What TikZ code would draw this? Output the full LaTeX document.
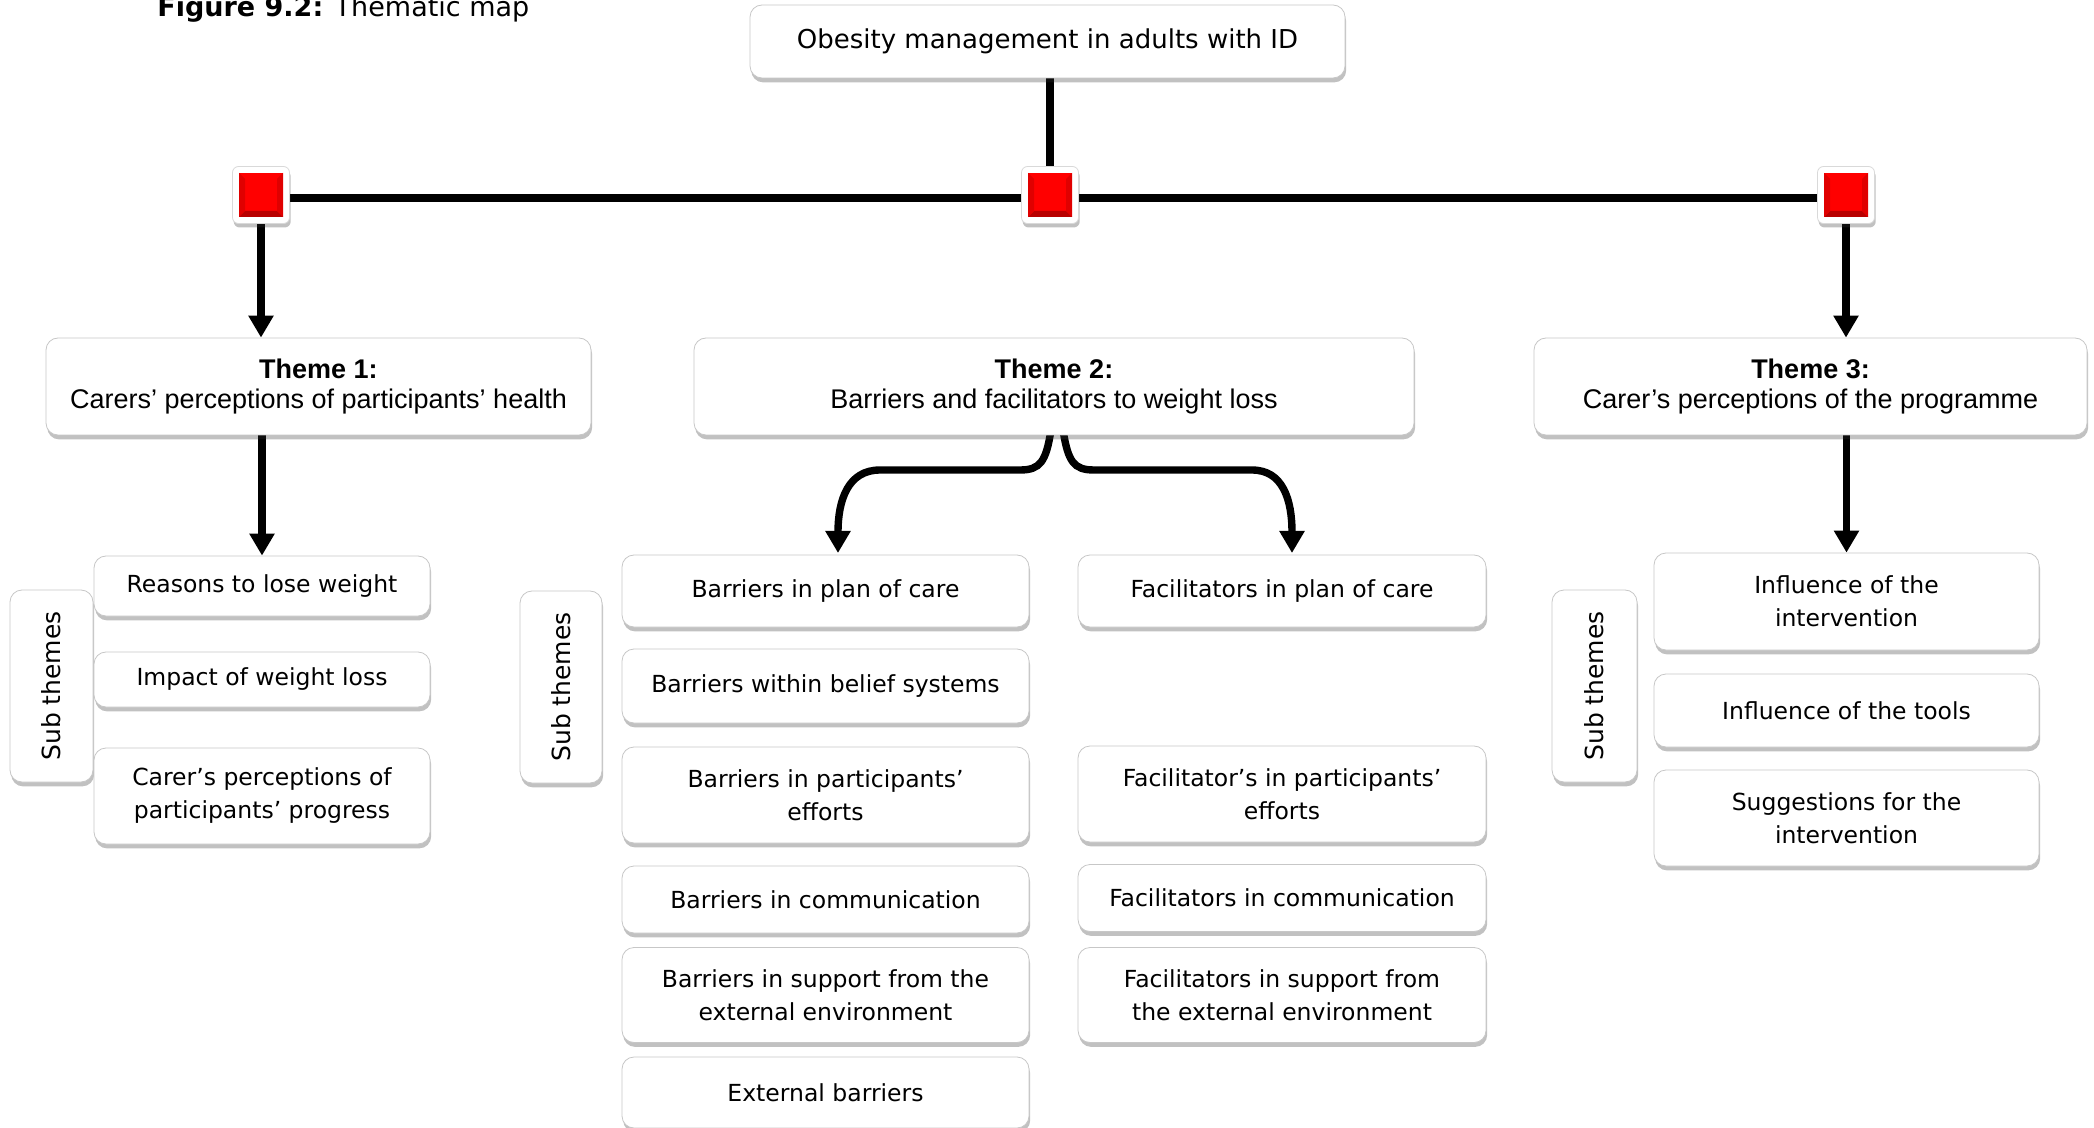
\documentclass[tikz,border=0pt]{standalone}
\usepackage{fontspec}
\setmainfont{DejaVu Sans}
\newfontfamily\arialf{Liberation Sans}
\usetikzlibrary{arrows.meta,shadows,backgrounds,calc}
\pgfdeclarehorizontalshading{bevel}{100bp}{color(0bp)=(black!20); color(6bp)=(black!7); color(11bp)=(white); color(90bp)=(white); color(96bp)=(black!5); color(100bp)=(black!12)}
\begin{document}
\begin{tikzpicture}[x=0.5pt,y=-0.5pt,
  box/.style={shade, shading=bevel, draw=black!22, line width=0.4pt, rounded corners=6pt,
    align=center, inner sep=1pt,
    drop shadow={shadow xshift=0.6pt, shadow yshift=-2.2pt, opacity=0.3, fill=black!80}},
  subt/.style={box, font=\fontsize{11.75pt}{16.5pt}\selectfont},
  theme/.style={box, font=\arialf\fontsize{13.5pt}{15pt}\selectfont},
  vert/.style={box, rotate=90, font=\fontsize{12.5pt}{15pt}\selectfont},
  sqbox/.style={fill=white, draw=black!15, line width=0.4pt, rounded corners=3pt, minimum size=28.5pt, inner sep=0pt,
    drop shadow={shadow xshift=0.6pt, shadow yshift=-2pt, opacity=0.3, fill=black!80}},
  link/.style={line width=3.7pt, black},
  arr/.style={link, -{Triangle[width=12pt,length=11pt]}},
]
\useasboundingbox (0,0) rectangle (2094,1128);

% title
\node[anchor=base west, inner sep=0pt, font=\fontsize{13.5pt}{16pt}\selectfont] (title) at (157,17) {\textbf{Figure 9.2:} Thematic map};

% root
\node[subt, minimum width=297.5pt, minimum height=36.5pt, font=\fontsize{13pt}{16pt}\selectfont] (top) at (1047.5,41.5) {Obesity management in adults with ID};

% red junctions
\node[sqbox] (sq1) at (261,195) {};
\node[sqbox] (sq2) at (1050,195) {};
\node[sqbox] (sq3) at (1846,195) {};
\foreach \s in {sq1,sq2,sq3}{
  \fill[red] ([shift={(-11pt,-11pt)}]\s.center) rectangle ([shift={(11pt,11pt)}]\s.center);
  \fill[red!72!black] ([shift={(-11pt,-11pt)}]\s.center) -- ([shift={(11pt,-11pt)}]\s.center) -- ([shift={(8pt,-8pt)}]\s.center) -- ([shift={(-8pt,-8pt)}]\s.center) -- cycle;
  \fill[red!88!black] ([shift={(-11pt,-11pt)}]\s.center) -- ([shift={(-8pt,-8pt)}]\s.center) -- ([shift={(-8pt,8pt)}]\s.center) -- ([shift={(-11pt,11pt)}]\s.center) -- cycle;
  \fill[red!88!black] ([shift={(11pt,-11pt)}]\s.center) -- ([shift={(8pt,-8pt)}]\s.center) -- ([shift={(8pt,8pt)}]\s.center) -- ([shift={(11pt,11pt)}]\s.center) -- cycle;
}

% themes
\node[theme, minimum width=272.5pt, minimum height=48.5pt] (th1) at (318.5,386.5) {\textbf{Theme 1:}\\Carers’ perceptions of participants’ health};
\node[theme, minimum width=360pt, minimum height=48.5pt] (th2) at (1054,386.5) {\textbf{Theme 2:}\\Barriers and facilitators to weight loss};
\node[theme, minimum width=276.5pt, minimum height=48.5pt] (th3) at (1810.5,386.5) {\textbf{Theme 3:}\\Carer’s perceptions of the programme};

% sub themes labels
\node[vert, minimum width=96pt, minimum height=41.5pt] (s1) at (51.5,686) {Sub themes};
\node[vert, minimum width=96pt, minimum height=41pt] (s2) at (561,687) {Sub themes};
\node[vert, minimum width=96pt, minimum height=42.5pt] (s3) at (1594.5,686) {Sub themes};

% theme 1 subs
\node[subt, minimum width=168pt, minimum height=30pt] (r1) at (262,586) {Reasons to lose weight};
\node[subt, minimum width=168pt, minimum height=27.5pt] (r2) at (262,679.5) {Impact of weight loss};
\node[subt, minimum width=168pt, minimum height=48pt] (r3) at (262,796) {Carer’s perceptions of\\participants’ progress};

% theme 2 subs
\node[subt, minimum width=203.5pt, minimum height=36pt] (b1) at (825.5,591) {Barriers in plan of care};
\node[subt, minimum width=203.5pt, minimum height=37pt] (b2) at (825.5,686) {Barriers within belief systems};
\node[subt, minimum width=203.5pt, minimum height=48pt] (b3) at (825.5,795) {Barriers in participants’\\efforts};
\node[subt, minimum width=203.5pt, minimum height=33.5pt] (b4) at (825.5,899.5) {Barriers in communication};
\node[subt, minimum width=203.5pt, minimum height=47.5pt] (b5) at (825.5,995) {Barriers in support from the\\external environment};
\node[subt, minimum width=203.5pt, minimum height=35.5pt] (b6) at (825.5,1092.5) {External barriers};

\node[subt, minimum width=204pt, minimum height=36pt] (f1) at (1282,591) {Facilitators in plan of care};
\node[subt, minimum width=204pt, minimum height=48pt] (f3) at (1282,794) {Facilitator’s in participants’\\efforts};
\node[subt, minimum width=204pt, minimum height=33.5pt] (f4) at (1282,898) {Facilitators in communication};
\node[subt, minimum width=204pt, minimum height=47.5pt] (f5) at (1282,995) {Facilitators in support from\\the external environment};

% theme 3 subs
\node[subt, minimum width=192.5pt, minimum height=48.5pt] (i1) at (1846.5,601.5) {Influence of the\\intervention};
\node[subt, minimum width=192.5pt, minimum height=36.5pt] (i2) at (1846.5,710.5) {Influence of the tools};
\node[subt, minimum width=192.5pt, minimum height=48pt] (i3) at (1846.5,818) {Suggestions for the\\intervention};

% connectors
\coordinate (jL) at (1051,430);
\coordinate (jR) at (1063,430);
\coordinate (tipL) at (838,553);
\coordinate (tipR) at (1292,553);
\begin{pgfonlayer}{background}
\draw[link] (sq2 |- top.south) -- (sq2.center);
\draw[link] ([yshift=-1.5pt]sq1.center) -- ([yshift=-1.5pt]sq3.center);
\draw[arr] (sq1.south) -- (sq1.south |- th1.north);
\draw[arr] (sq3.south) -- (sq3.south |- th3.north);
\draw[arr] (r1.north |- th1.south) -- (r1.north);
\draw[arr] (i1.north |- th3.south) -- (i1.north);
\draw[arr] (jL) .. controls (1046,462) and (1040,470) .. (1020,470) -- (880,470) .. controls (848,470) and (838,500) .. (tipL);
\draw[arr] (jR) .. controls (1068,462) and (1074,470) .. (1094,470) -- (1252,470) .. controls (1283,470) and (1292,500) .. (tipR);
\end{pgfonlayer}
\end{tikzpicture}
\end{document}
